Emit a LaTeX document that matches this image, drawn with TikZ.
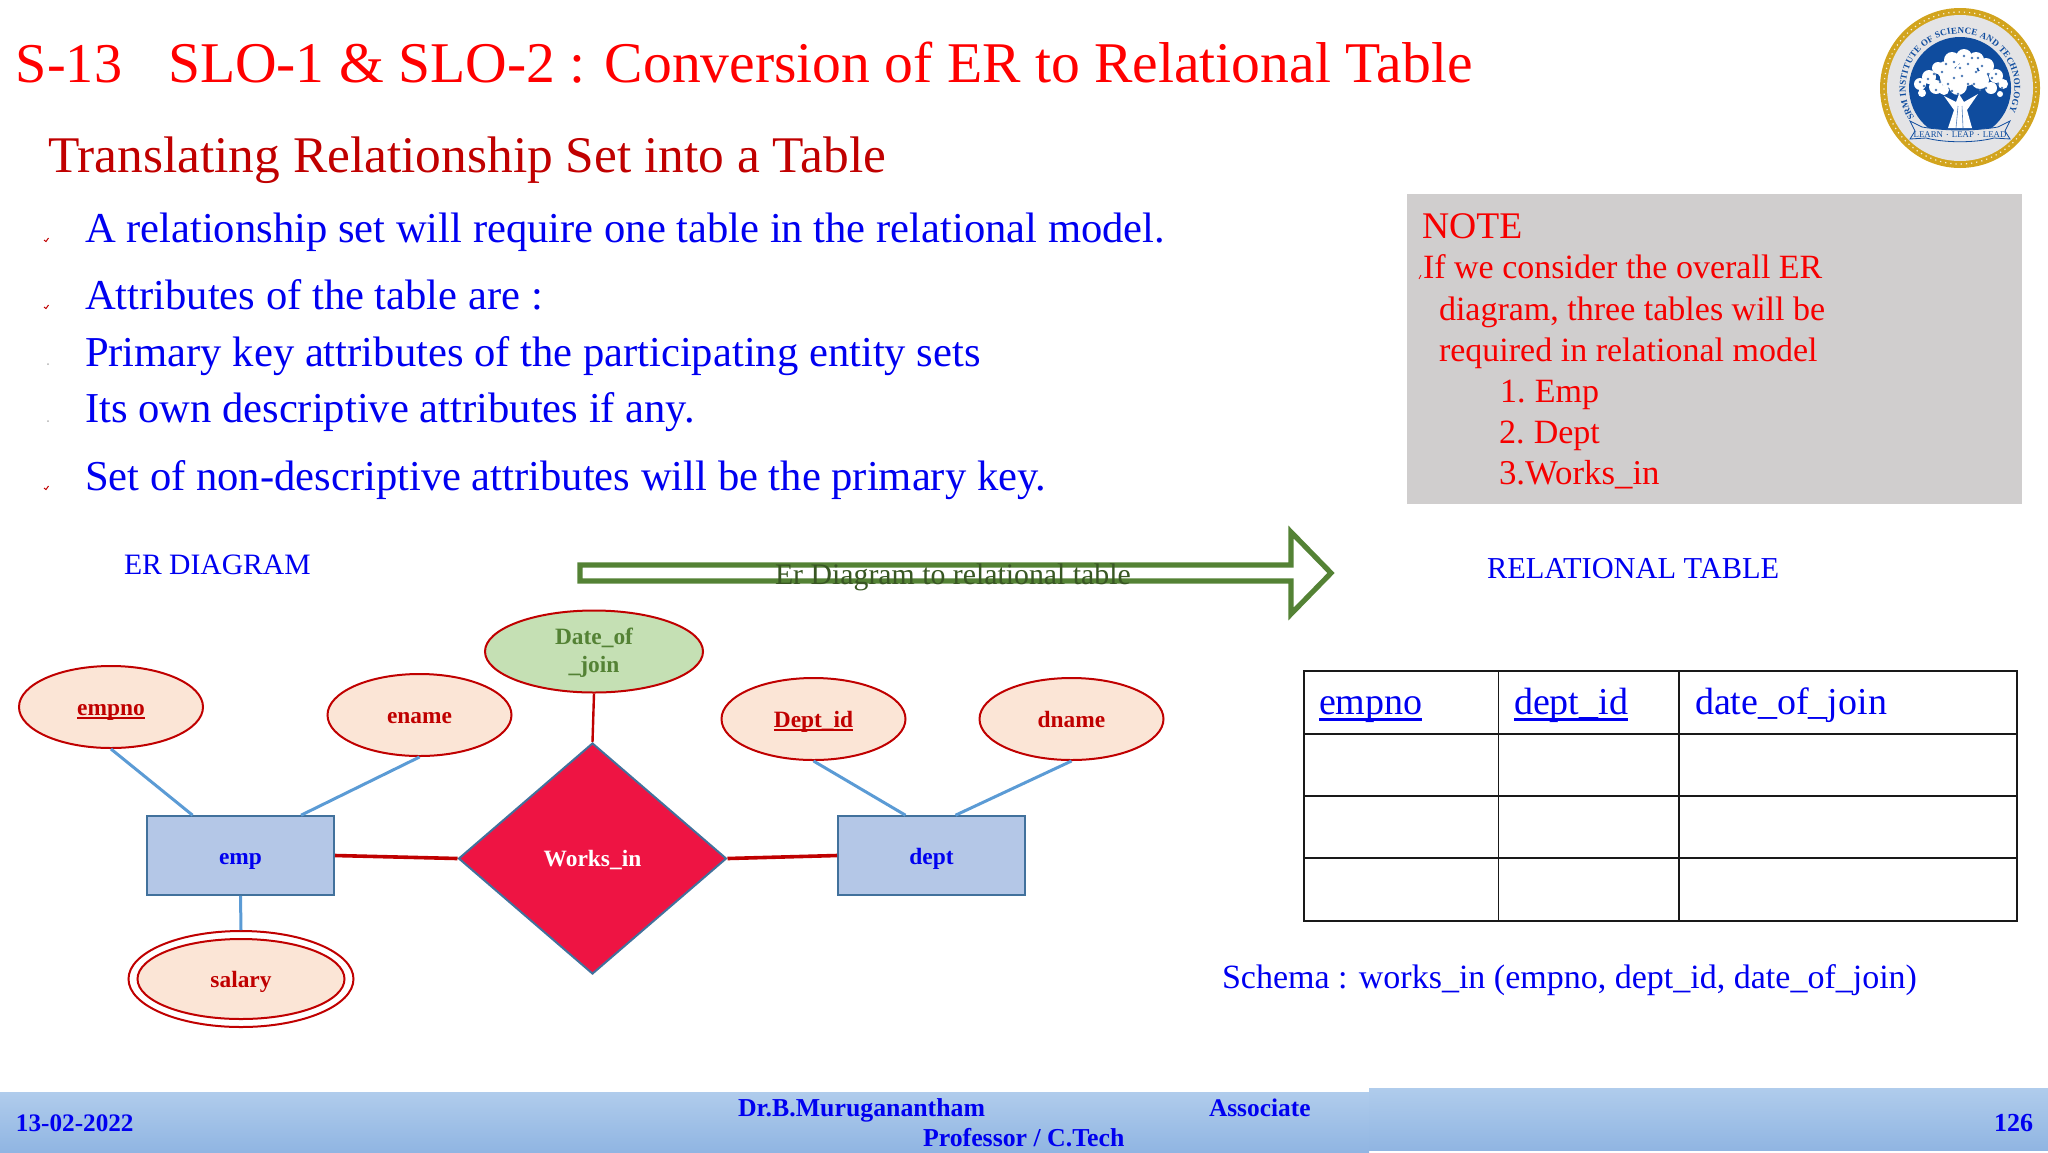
\documentclass[tikz,border=0pt]{standalone}
\usepackage{fontspec}
\setmainfont{Liberation Serif}
\usetikzlibrary{shapes.geometric,decorations.text}
\definecolor{titlered}{HTML}{FF0000}
\definecolor{darkred}{HTML}{C00000}
\definecolor{pureblue}{HTML}{0000F0}
\definecolor{notegrey}{HTML}{D0CECE}
\definecolor{notered}{HTML}{F60000}
\definecolor{arrowgreen}{HTML}{548235}
\definecolor{labelgreen}{HTML}{385723}
\definecolor{attrfill}{HTML}{FBE5D6}
\definecolor{keyfill}{HTML}{C5E0B4}
\definecolor{boxfill}{HTML}{B4C7E7}
\definecolor{boxline}{HTML}{41719C}
\definecolor{linkblue}{HTML}{5B9BD5}
\definecolor{relfill}{HTML}{EE1443}
\definecolor{logoblue}{HTML}{0F4C9E}
\definecolor{logogold}{HTML}{D2A41E}
\definecolor{logogrey}{HTML}{E4E4E6}
\definecolor{foottop}{HTML}{B0CCEC}
\definecolor{footbot}{HTML}{90B5E2}
\newcommand{\thickul}[3]{\setbox0=\hbox{#3}\rlap{\rule[-#1]{\wd0}{#2}}\box0}
\tikzset{
  txt/.style={anchor=base west,inner sep=0pt,outer sep=0pt},
  fs/.style={font=\fontsize{#1}{#1}\selectfont},
  fsb/.style={font=\fontsize{#1}{#1}\selectfont\bfseries},
  attr/.style={ellipse,draw=darkred,line width=1pt,fill=attrfill,text=darkred,inner sep=0pt,
     minimum width=92pt,minimum height=41pt,fsb=11.7,text height=10pt,text depth=2pt},
  entity/.style={rectangle,draw=boxline,line width=1pt,fill=boxfill,text=pureblue,inner sep=0pt,
     minimum width=93.5pt,minimum height=39.3pt,fsb=11.7,text height=11pt,text depth=2pt},
  attrlink/.style={draw=linkblue,line width=1.5pt},
  rellink/.style={draw=darkred,line width=1.8pt},
  tblline/.style={draw=black!90,line width=1pt},
}
\begin{document}
\begin{tikzpicture}[x=0.5pt,y=-0.5pt]
\useasboundingbox (0,0) rectangle (2048,1152);
% title block
\node[txt,fs=28.1,text=titlered] (tnum) at (16,82) {S-13};
\node[txt,fs=28.8,text=titlered] (ttext) at (168,82) {SLO-1 \& SLO-2 : Conversion of ER to Relational Table};
\node[txt,fs=25.7,text=darkred] (sub) at (48,172.5) {Translating Relationship Set into a Table};
% bullets
\node[txt,fs=21.3,text=pureblue] (b1) at (85,242) {A relationship set will require one table in the relational model.};
\node[txt,fs=21.3,text=pureblue] (b2) at (85,309.5) {Attributes of the table are :};
\node[txt,fs=21.3,text=pureblue] (b3) at (85,366) {Primary key attributes of the participating entity sets};
\node[txt,fs=21.3,text=pureblue] (b4) at (85,422.5) {Its own descriptive attributes if any.};
\node[txt,fs=21.3,text=pureblue] (b5) at (85,490) {Set of non-descriptive attributes will be the primary key.};
\foreach \yy in {240,307,488}{\draw[darkred,line width=.5pt] (44,\yy) -- (46,\yy+1.5) -- (48.5,\yy-2);}
\foreach \yy in {364,421}{\fill[gray!60] (48,\yy) circle[radius=.5pt];}
% note
\fill[notegrey] (1407,194) rectangle (2022,504);
\node[txt,fs=18.8,text=notered] (n0) at (1422,238) {NOTE};
\node[txt,fs=17,text=notered] (n1) at (1423,278) {If we consider the overall ER};
\node[txt,fs=17,text=notered] (n2) at (1439,320) {diagram, three tables will be};
\node[txt,fs=17,text=notered] (n3) at (1439,361) {required in relational model};
\node[txt,fs=17,text=notered] (n4) at (1500,402) {1.\hspace{-1pt} Emp};
\node[txt,fs=17,text=notered] (n5) at (1499,443) {2.\hspace{-1pt} Dept};
\node[txt,fs=17.4,text=notered] (n6) at (1499,484) {3.Works\_in};
\draw[notered,line width=.4pt] (1419,279) -- (1421,275);
% logo
\begin{scope}[shift={(1960,88)},x=.5pt,y=.5pt]
  \fill[logogold] (0,0) circle[radius=40pt];
  \draw[white!85!logogold,line width=.6pt,dotted] (0,0) circle[radius=38pt];
  \fill[logogrey] (0,0) circle[radius=36.5pt];
  \fill[logoblue] (0,0) circle[radius=25.5pt];
  % circular motto
  \path[postaction={decorate},decoration={text along path,text align={fit to path},
     text={|\fontsize{4.5}{4.5}\selectfont\bfseries\color{logoblue}|SRM INSTITUTE OF SCIENCE AND TECHNOLOGY}}]
     (213:27.2pt) arc[start angle=213,end angle=-26,radius=27.2pt];
  % tree
  \foreach \xx/\yy/\rr in {-40/4/6,-31/11/7,-24/1/7,-22/20/6,-14/18/9,-8/28/8,4/31/8,16/28/8,26/22/8,36/12/7,
      43/4/5,-10/10/10,6/14/12,20/8/9,-38/-5/4,31/0/6,-2/2/9,-16/-2/5,40/-6/3}
    {\fill[white] (\xx,\yy) circle[radius=\rr*.5pt];}
  \foreach \xx/\yy in {-32/9,-18/16,-6/26,8/24,22/22,32/10,-24/-2,-12/4,2/12,14/4,26/0,-2/-6,38/4,-36/2,12/30,
      -26/14,-14/24,0/20,16/16,28/14,-20/6,-6/10,8/4,20/-2,36/14,-40/6,4/32,18/30,-8/-3,42/0}
    {\fill[logoblue!75] (\xx,\yy) circle[radius=.65pt];}
  \fill[white] (-12,-40) -- (-6,-22) -- (-16,-8) -- (-4,-14) -- (-1,-6) -- (4,-14) -- (18,-6) -- (7,-22) -- (12,-40) -- cycle;
  \draw[logoblue!70,line width=.3pt] (-4,-40) -- (-2,-18) (3,-40) -- (2,-18);
  % ribbon
  \fill[logogrey,draw=logoblue,line width=.4pt] (-50,-33) -- (-38,-39) .. controls (-15,-43) and (15,-43) .. (38,-39) -- (50,-33) -- (45,-43) -- (50,-51) -- (34,-50) .. controls (15,-55) and (-15,-55) .. (-34,-50) -- (-50,-51) -- (-45,-43) -- cycle;
  \node[inner sep=0pt,text=logoblue,fs=4.4] (motto) at (0,-47) {LEARN $\cdot$ LEAP $\cdot$ LEAD};
\end{scope}
% captions
\node[txt,fs=14.8,text=pureblue] (erc) at (124,574) {ER DIAGRAM};
\node[txt,fs=15.2,text=pureblue] (relc) at (1487,578) {RELATIONAL TABLE};
% arrow
\draw[arrowgreen,line width=2.6pt,fill=white,miter limit=10]
  (580,565) -- (1291,565) -- (1291,532) -- (1331,573) -- (1291,614) -- (1291,581) -- (580,581) -- cycle;
\node[txt,fs=14.9,text=labelgreen] (arl) at (775,584) {Er Diagram to relational table};
% ER diagram
\node[attr,minimum width=109pt,fill=keyfill,text=arrowgreen] (doj) at (594,651.5) {};
\node[txt,fsb=11.7,text=arrowgreen,anchor=base] (doja) at (594,644) {Date\_of};
\node[txt,fsb=11.7,text=arrowgreen,anchor=base] (dojb) at (594,672) {\_join};
\node[attr] (empno) at (111,707) {\thickul{2.2pt}{1pt}{empno}};
\node[attr] (ename) at (419.5,715) {ename};
\node[attr] (deptid) at (813.5,719) {\thickul{2.2pt}{1pt}{Dept\_id}};
\node[attr] (dname) at (1071.5,719) {dname};
\node[entity] (emp) at (240.5,855.5) {emp};
\node[entity] (dept) at (931.5,855.5) {dept};
\node[diamond,draw=boxline,line width=1pt,fill=relfill,text=white,inner sep=0pt,aspect=1.17,
   minimum width=134pt,minimum height=115.5pt,fsb=11.7,text height=10pt,text depth=2pt] (works) at (592.5,858.5) {Works\_in};
\node[ellipse,draw=darkred,line width=1pt,fill=white,minimum width=112.5pt,minimum height=48pt,inner sep=0pt] (salo) at (241,979) {};
\node[attr,minimum width=103.5pt,minimum height=40pt,text height=10.3pt,text depth=1.7pt] (salary) at (241,979) {salary};
\path[attrlink] (empno.south) -- ([xshift=23.3pt]emp.north west);
\path[attrlink] (ename.south) -- ([xshift=-17pt]emp.north east);
\path[attrlink] (deptid.south) -- ([xshift=-13pt]dept.north);
\path[attrlink] (dname.south) -- ([xshift=12pt]dept.north);
\path[attrlink] (emp.south) -- (salo.north);
\path[draw=darkred,line width=1.2pt] (doj.south) -- (works.north);
\path[rellink] (emp.east) -- (works.west);
\path[rellink] (works.east) -- (dept.west);
% table
\draw[tblline,line width=1.2pt] (1304,671) rectangle (2017,921);
\draw[tblline,line width=1.1pt] (1304,734) -- (2017,734) (1304,796) -- (2017,796) (1304,858) -- (2017,858);
\draw[tblline,line width=.9pt] (1498.5,671) -- (1498.5,921) (1679,671) -- (1679,921);
\node[txt,fs=19,text=pureblue] (c1) at (1319,714.5) {\thickul{3pt}{1.3pt}{empno}};
\node[txt,fs=19,text=pureblue] (c2) at (1514,714.5) {\thickul{3pt}{1.3pt}{dept\_id}};
\node[txt,fs=19,text=pureblue] (c3) at (1695,714.5) {date\_of\_join};
\node[txt,fs=17,text=pureblue] (sch) at (1222,988) {Schema : works\_in (empno, dept\_id, date\_of\_join)};
% footer
\shade[top color=foottop,bottom color=footbot] (0,1092) rectangle (1369,1152);
\shade[top color=foottop,bottom color=footbot] (1369,1088) rectangle (2048,1150);
\node[txt,fsb=12.6,text=pureblue] (fdate) at (16,1131) {13-02-2022};
\node[txt,fsb=12.9,text=pureblue] (fa) at (738,1116) {Dr.B.Muruganantham};
\node[txt,fsb=12.7,text=pureblue] (fb) at (1209,1116) {Associate};
\node[txt,fsb=12.9,text=pureblue] (fc) at (923,1146) {Professor / C.Tech};
\node[txt,fsb=13,text=pureblue] (fn) at (1994,1131) {126};
\end{tikzpicture}
\end{document}
